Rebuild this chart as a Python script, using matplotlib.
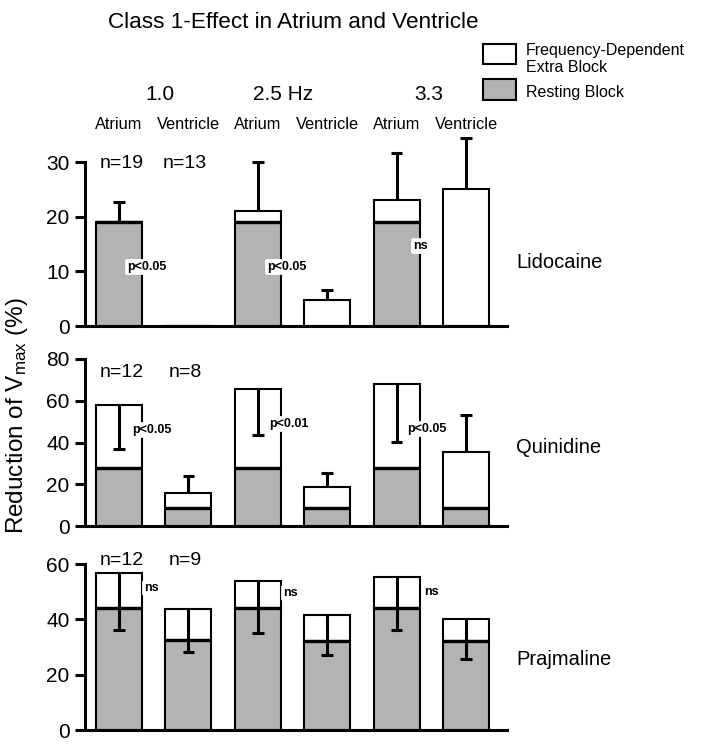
import matplotlib
matplotlib.use("Agg")
import matplotlib.pyplot as plt
from matplotlib.patches import Rectangle
from matplotlib.transforms import blended_transform_factory

# ---------------- data ----------------
sites = ["Atrium", "Ventricle", "Atrium", "Ventricle", "Atrium", "Ventricle"]
freqs = ["1.0", "2.5 Hz", "3.3"]
drugs = ["Lidocaine", "Quinidine", "Prajmaline"]

lido_rest = [19, 0, 19, 0, 19, 0]
lido_extra = [0, 0, 2, 4.7, 4, 25]
lido_err = [3.7, 0, 9, 1.8, 8.7, 9.4]          # + = upward, - = downward

quin_rest = [28, 8.5, 28, 8.5, 28, 8.5]
quin_extra = [30, 7.5, 37.5, 10.2, 40, 26.8]
quin_err = [-21, 8, -22, 6.8, -27.6, 17.9]

praj_rest = [44.2, 32.5, 44.2, 32, 44.2, 32.2]
praj_extra = [12.5, 11.2, 9.5, 9.7, 11, 7.8]
praj_err = [-20.7, -15.5, -18.7, -14.6, -19.2, -14.5]

n_labels = [["n=19", "n=13"], ["n=12", "n=8"], ["n=12", "n=9"]]
yticks = [[0, 10, 20, 30], [0, 20, 40, 60, 80], [0, 20, 40, 60]]

# ---------------- style ----------------
plt.rcParams["font.family"] = ["Liberation Sans", "DejaVu Sans"]
plt.rcParams["mathtext.fontset"] = "custom"
plt.rcParams["mathtext.rm"] = "Liberation Sans"
plt.rcParams["mathtext.it"] = "Liberation Sans"

W, H = 701, 748
fig = plt.figure(figsize=(W / 100, H / 100), dpi=100)

GRAY = "#b3b3b3"
xs = list(range(6))
BW = 0.66
CAPW = 0.17
X0PX, STEP = 119.0, 69.4
LEFTPX, RIGHTPX = 85, 507


def px2x(px):
    return (px - X0PX) / STEP


def fx(px):
    return px / W


def fy(py):
    return 1 - py / H


# panel pixel geometry: (baseline px, top tick value, top tick px, ylim top)
geom = [(326, 30, 162, 36), (526, 80, 359, 84), (730, 60, 564, 62)]
rests = [lido_rest, quin_rest, praj_rest]
extras = [lido_extra, quin_extra, praj_extra]
errs = [lido_err, quin_err, praj_err]

axes = []
for k in range(3):
    base, tval, tpx, ytop = geom[k]
    ppu = (base - tpx) / tval
    toppx = base - ytop * ppu
    ax = fig.add_axes([fx(LEFTPX), fy(base), fx(RIGHTPX - LEFTPX),
                       (base - toppx) / H])
    ax.set_xlim(px2x(LEFTPX), px2x(RIGHTPX))
    ax.set_ylim(0, ytop)
    for s in ["top", "right"]:
        ax.spines[s].set_visible(False)
    ax.spines["left"].set_bounds(0, tval)
    ax.spines["left"].set_linewidth(2.2)
    ax.spines["bottom"].set_linewidth(2.2)
    ax.set_xticks([])
    ax.set_yticks(yticks[k])
    ax.tick_params(axis="y", direction="out", length=7, width=2.2,
                   labelsize=15, pad=4)
    ax.patch.set_alpha(0)

    rest, extra, err = rests[k], extras[k], errs[k]
    ax.bar(xs, rest, BW, color=GRAY, edgecolor="black", linewidth=1.5,
           zorder=2)
    ax.bar(xs, extra, BW, bottom=rest, color="white", edgecolor="black",
           linewidth=1.5, zorder=2)
    for i in xs:
        if rest[i] > 0:
            ax.hlines(rest[i], i - BW / 2, i + BW / 2, color="black",
                      linewidth=2.4, zorder=3)
        top = rest[i] + extra[i]
        if err[i] != 0:
            end = top + err[i]
            ax.vlines(i, top, end, color="black", linewidth=2.2, zorder=4,
                      clip_on=False)
            ax.hlines(end, i - CAPW / 2, i + CAPW / 2, color="black",
                      linewidth=2.2, zorder=4, clip_on=False)
    axes.append(ax)

# n labels (centered over first two bars)
n_base = [168.3, 377.3, 565]
for k, ax in enumerate(axes):
    tr = blended_transform_factory(ax.transData, fig.transFigure)
    for lab, xp in zip(n_labels[k], (122, 185)):
        ax.text(px2x(xp), fy(n_base[k]), lab, transform=tr, ha="center",
                va="baseline", fontsize=14)

# significance labels
pfont = dict(weight="bold", fontsize=9, va="center", ha="left", zorder=6)
pbox = dict(boxstyle="round,pad=0.15", fc="white", ec="none")
sig = [
    (0, 127, 267, "p<0.05"), (0, 267, 267, "p<0.05"), (0, 413, 246, "ns"),
    (1, 132, 430, "p<0.05"), (1, 269, 424, "p<0.01"), (1, 407, 429, "p<0.05"),
    (2, 144, 588, "ns"), (2, 283, 593, "ns"), (2, 424, 592, "ns"),
]
for k, xp, yp, lab in sig:
    ax = axes[k]
    tr = blended_transform_factory(ax.transData, fig.transFigure)
    ax.text(px2x(xp), fy(yp), lab, transform=tr, bbox=pbox, **pfont)

# drug labels
for lab, yb in zip(drugs, (268.3, 453.3, 665)):
    fig.text(fx(516), fy(yb), lab, fontsize=14.5, ha="left", va="baseline")

# header
fig.text(fx(293), fy(28.3), "Class 1-Effect in Atrium and Ventricle",
         fontsize=16.2, ha="center", va="baseline")
for lab, xp in zip(freqs, (160, 283, 429)):
    fig.text(fx(xp), fy(100), lab, fontsize=15, ha="center", va="baseline")
trh = blended_transform_factory(axes[0].transData, fig.transFigure)
for i, lab in enumerate(sites):
    fig.text(i, fy(129.3), lab, transform=trh, fontsize=11.8, ha="center",
             va="baseline")

# legend
for (y0, y1), col in (((44, 64), "white"), ((79, 100), GRAY)):
    fig.add_artist(Rectangle((fx(483), fy(y1)), fx(516 - 483), (y1 - y0) / H,
                             transform=fig.transFigure, facecolor=col,
                             edgecolor="black", linewidth=1.5))
fig.text(fx(526), fy(54.5), "Frequency-Dependent", fontsize=11.5,
         ha="left", va="baseline")
fig.text(fx(526), fy(71.7), "Extra Block", fontsize=11.5, ha="left",
         va="baseline")
fig.text(fx(526), fy(96.5), "Resting Block", fontsize=11.5, ha="left",
         va="baseline")

# y label
fig.text(fx(17), fy(416), r"Reduction of V$_{\mathregular{max}}$ (%)",
         rotation=90, fontsize=17.5, ha="center", va="center")

fig.savefig("out.png", dpi=100)
